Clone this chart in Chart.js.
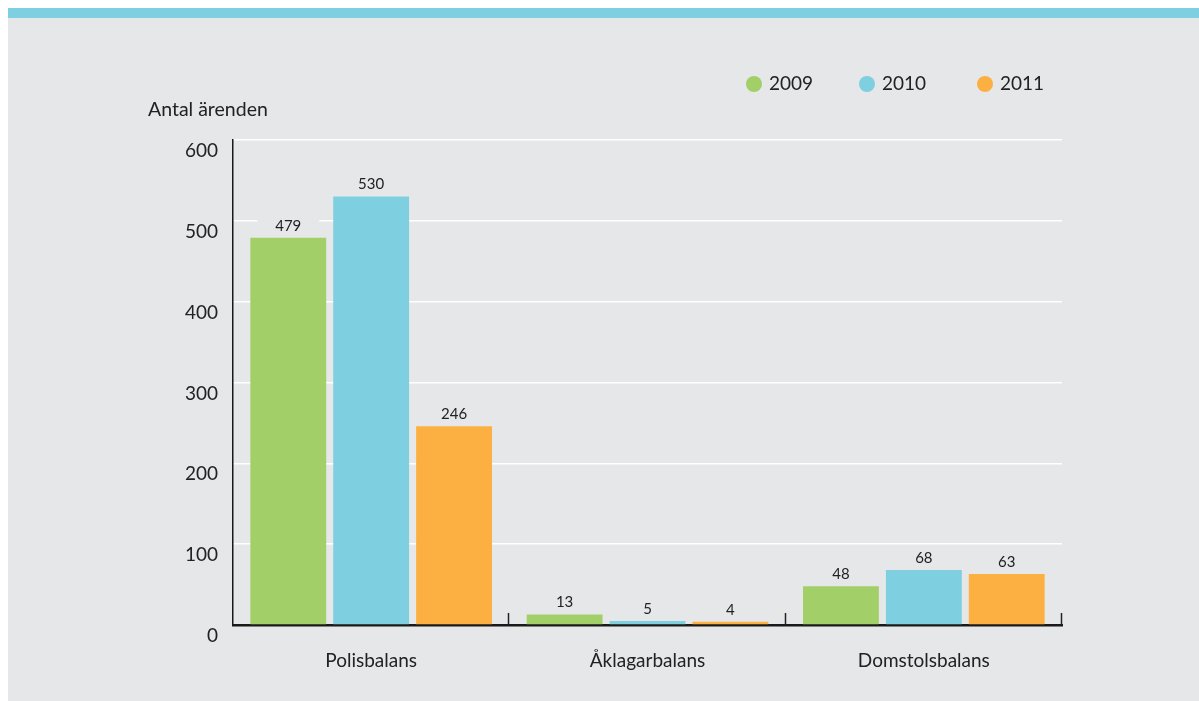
<!DOCTYPE html>
<html>
<head>
<meta charset="utf-8">
<script src="https://cdn.jsdelivr.net/npm/chart.js@4/dist/chart.umd.min.js"></script>
<style>
  html, body { margin: 0; padding: 0; background: #ffffff; }
  canvas { display: block; }
</style>
</head>
<body>
<canvas id="balansChart" width="1199" height="701"></canvas>
<script>
// Data
var categories = ["Polisbalans", "Åklagarbalans", "Domstolsbalans"];
var years = ["2009", "2010", "2011"];
var values2009 = [479, 13, 48];
var values2010 = [530, 5, 68];
var values2011 = [246, 4, 63];
var yTicks = [0, 100, 200, 300, 400, 500, 600];
var yTitle = "Antal ärenden";

var colors = ["#a3cf69", "#7ecfe0", "#fdb042"];
var panelColor = "#e6e7e9";
var fontName = "Lato, 'Open Sans', sans-serif";

// panel background + cyan band on top
var panelPlugin = {
    id: 'panel',
    beforeDraw: function (chart) {
        var ctx = chart.ctx;
        ctx.save();
        ctx.fillStyle = "#ffffff";
        ctx.fillRect(0, 0, chart.width, chart.height);
        ctx.fillStyle = panelColor;
        ctx.fillRect(8, 8, chart.width - 8, chart.height - 8);
        ctx.fillStyle = "#7ecfe0";
        ctx.fillRect(8, 8, chart.width - 8, 10);
        ctx.restore();
    }
};

// legend, axis title, category ticks and value labels
var extrasPlugin = {
    id: 'extras',
    afterDraw: function (chart) {
        var ctx = chart.ctx;
        var area = chart.chartArea;
        ctx.save();

        // legend (dots)
        ctx.font = "19px " + fontName;
        ctx.textBaseline = "middle";
        ctx.textAlign = "left";
        var lx = [754, 867, 985];
        years.forEach(function (y, i) {
            ctx.fillStyle = colors[i];
            ctx.beginPath();
            ctx.arc(lx[i], 84, 8, 0, Math.PI * 2);
            ctx.fill();
            ctx.fillStyle = "#222222";
            ctx.fillText(y, lx[i] + 15, 84);
        });

        // y axis title
        ctx.font = "19.5px " + fontName;
        ctx.fillStyle = "#222222";
        ctx.textBaseline = "alphabetic";
        ctx.fillText(yTitle, 148, 116);

        // small ticks between categories
        var xs = chart.scales.x;
        var step = xs.width / categories.length;
        ctx.strokeStyle = "#222222";
        ctx.lineWidth = 1.5;
        for (var i = 1; i <= categories.length; i++) {
            var tx = Math.round(xs.left + step * i) - 0.5;
            ctx.beginPath();
            ctx.moveTo(tx, area.bottom);
            ctx.lineTo(tx, area.bottom - 12);
            ctx.stroke();
        }

        // value labels
        ctx.font = "15px " + fontName;
        ctx.textAlign = "center";
        ctx.textBaseline = "middle";
        chart.data.datasets.forEach(function (ds, di) {
            var meta = chart.getDatasetMeta(di);
            meta.data.forEach(function (bar, bi) {
                var cy = bar.y - 12;
                ctx.fillStyle = panelColor;
                ctx.fillRect(bar.x - 31, cy - 9, 62, 18);
                ctx.fillStyle = "#222222";
                ctx.fillText(ds.data[bi], bar.x, cy);
            });
        });
        ctx.restore();
    }
};

var chartEl = document.getElementById("balansChart");
var BalansChart = new Chart(chartEl, {
    type: 'bar',
    data: {
        labels: categories,
        datasets: [{
            label: years[0],
            data: values2009,
            backgroundColor: colors[0]
        }, {
            label: years[1],
            data: values2010,
            backgroundColor: colors[1]
        }, {
            label: years[2],
            data: values2011,
            backgroundColor: colors[2]
        }]
    },
    options: {
        responsive: false,
        animation: false,
        categoryPercentage: 0.9,
        barPercentage: 0.915,
        layout: {
            padding: { top: 140, right: 137, bottom: 26, left: 0 }
        },
        plugins: {
            legend: { display: false },
            tooltip: { enabled: false }
        },
        scales: {
            x: {
                grid: { display: false },
                border: { color: "#1a1a1a", width: 2.5 },
                ticks: {
                    color: "#222222",
                    font: { family: fontName, size: 19 },
                    padding: 16
                },
                afterFit: function (scale) { scale.height = 50; }
            },
            y: {
                min: 0,
                max: 600,
                afterBuildTicks: function (scale) {
                    scale.ticks = yTicks.map(function (v) { return { value: v }; });
                },
                grid: { color: "#ffffff", lineWidth: 1.5, drawTicks: false },
                border: { color: "#1a1a1a", width: 1.5 },
                ticks: {
                    color: "#222222",
                    font: { family: fontName, size: 19 },
                    padding: 15,
                    labelOffset: 11
                },
                afterFit: function (scale) { scale.width = 233; }
            }
        }
    },
    plugins: [panelPlugin, extrasPlugin]
});
</script>
</body>
</html>
